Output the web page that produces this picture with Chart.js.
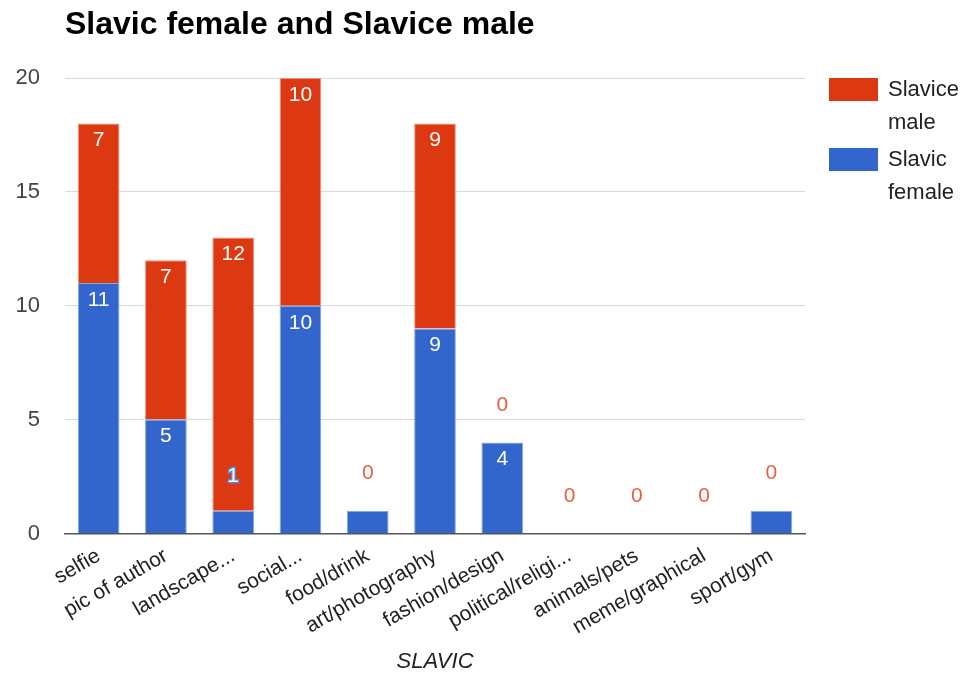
<!DOCTYPE html>
<html>
<head>
<meta charset="utf-8">
<script src="https://cdn.jsdelivr.net/npm/chart.js@4.4.0/dist/chart.umd.min.js"></script>
<style>
  html, body { margin: 0; padding: 0; background: #fff; }
  #wrap { width: 967px; height: 673px; }
</style>
</head>
<body>
<div id="wrap"><canvas id="myChart"></canvas></div>
<script>
const categories = ['selfie', 'pic of author', 'landscape...', 'social...', 'food/drink', 'art/photography',
  'fashion/design', 'political/religi...', 'animals/pets', 'meme/graphical', 'sport/gym'];
const female = [11, 5, 1, 10, 1, 9, 4, 0, 0, 0, 1];
const male = [7, 7, 12, 10, 0, 9, 0, 0, 0, 0, 0];
const yTicks = [0, 5, 10, 15, 20];
const chartTitle = 'Slavic female and Slavice male';
const xTitle = 'SLAVIC';

const FONT = '"Liberation Sans", Arial, sans-serif';

// title at the left edge of the plot area
const titlePlugin = {
  id: 'leftTitle',
  afterDraw(chart) {
    const ctx = chart.ctx;
    ctx.save();
    ctx.font = 'bold 32px ' + FONT;
    ctx.fillStyle = '#000';
    ctx.textBaseline = 'alphabetic';
    ctx.textAlign = 'left';
    ctx.fillText(chartTitle, chart.chartArea.left, 34);
    ctx.restore();
  }
};

// legend on the right, names broken in two lines, male first
const legendPlugin = {
  id: 'sideLegend',
  afterDraw(chart) {
    const ctx = chart.ctx;
    const area = chart.chartArea;
    const sets = chart.data.datasets.slice().reverse();
    ctx.save();
    ctx.font = '22px ' + FONT;
    ctx.textBaseline = 'middle';
    ctx.textAlign = 'left';
    sets.forEach((ds, i) => {
      const x = area.right + 24;
      const y = area.top + i * 70;
      ctx.fillStyle = ds.backgroundColor;
      ctx.fillRect(x, y, 49, 23);
      ctx.fillStyle = '#222';
      ds.label.split(' ').forEach((line, j) => {
        ctx.fillText(line, x + 59, y + 12 + j * 33);
      });
    });
    ctx.restore();
  }
};

// value labels like the google chart
const labelPlugin = {
  id: 'barLabels',
  afterDatasetsDraw(chart) {
    const ctx = chart.ctx;
    const fem = chart.getDatasetMeta(0).data;
    const mal = chart.getDatasetMeta(1).data;
    ctx.save();
    ctx.font = '21px ' + FONT;
    ctx.textAlign = 'center';
    ctx.textBaseline = 'middle';
    fem.forEach((bar, i) => {
      const v = female[i];
      const h = bar.base - bar.y;
      if (v > 0 && h > 30) {
        ctx.fillStyle = '#fff';
        ctx.fillText(v, bar.x, bar.y + 17);
      } else if (v > 0 && male[i] > 0) {
        ctx.lineWidth = 3;
        ctx.strokeStyle = '#5b84d6';
        ctx.strokeText(v, bar.x, bar.y - 34);
        ctx.fillStyle = '#fff';
        ctx.fillText(v, bar.x, bar.y - 34);
      }
    });
    mal.forEach((bar, i) => {
      const v = male[i];
      if (v > 0) {
        ctx.fillStyle = '#fff';
        ctx.fillText(v, bar.x, bar.y + 17);
      } else {
        ctx.fillStyle = '#e8603f';
        ctx.fillText(v, bar.x, bar.y - 37);
      }
    });
    ctx.restore();
  }
};

var ctx = document.getElementById('myChart').getContext('2d');
var chart = new Chart(ctx, {
  type: 'bar',
  data: {
    labels: categories,
    datasets: [{
      label: 'Slavic female',
      data: female,
      backgroundColor: '#3366cc',
      borderColor: '#8aa6e0',
      borderWidth: 1
    }, {
      label: 'Slavice male',
      data: male,
      backgroundColor: '#dc3912',
      borderColor: '#f0937a',
      borderWidth: 1
    }]
  },
  options: {
    responsive: true,
    maintainAspectRatio: false,
    animation: false,
    layout: { padding: { top: 78, left: 15, right: 162, bottom: 0 } },
    datasets: { bar: { categoryPercentage: 1, barPercentage: 0.62 } },
    plugins: {
      title: { display: false },
      tooltip: { enabled: false },
      legend: { display: false }
    },
    scales: {
      x: {
        stacked: true,
        grid: { display: false },
        border: { color: '#555', width: 1.5 },
        afterFit(scale) { scale.paddingLeft = 0; scale.paddingRight = 0; },
        ticks: {
          color: '#222',
          font: { family: FONT, size: 21 },
          minRotation: 30,
          maxRotation: 30,
          autoSkip: false,
          padding: 2
        },
        title: {
          display: true,
          text: xTitle,
          color: '#222',
          font: { family: FONT, size: 22, style: 'italic', lineHeight: 1 },
          padding: { top: 9, bottom: 0 }
        }
      },
      y: {
        stacked: true,
        min: 0,
        max: 20,
        afterBuildTicks(axis) { axis.ticks = yTicks.map(v => ({ value: v })); },
        afterFit(scale) { scale.width = 50; },
        grid: { color: '#d9d9d9', drawTicks: false },
        border: { display: false },
        ticks: {
          color: '#444',
          font: { family: FONT, size: 22 },
          padding: 25
        }
      }
    }
  },
  plugins: [titlePlugin, labelPlugin, legendPlugin]
});
</script>
</body>
</html>
